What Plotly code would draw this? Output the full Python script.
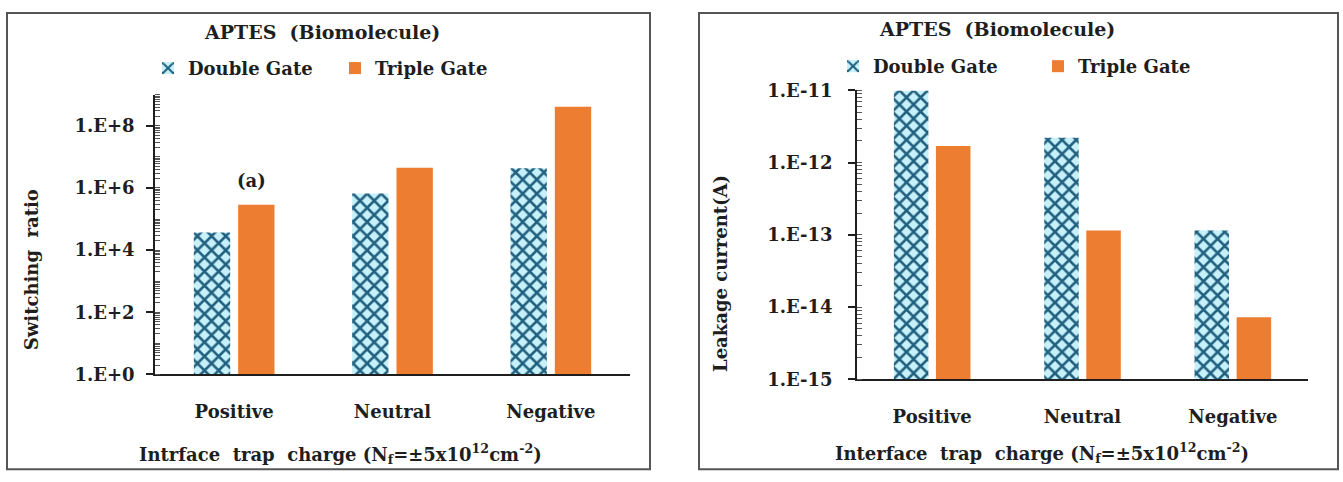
import plotly.graph_objects as go

# Categories and values for the two APTES (biomolecule) panels
charges = ["Positive", "Neutral", "Negative"]

switch_double = [3.7e4, 6.6e5, 4.3e6]
switch_triple = [2.9e5, 4.5e6, 4.1e8]

leak_double = [1.0e-11, 2.2e-12, 1.15e-13]
leak_triple = [1.7e-12, 1.15e-13, 7.2e-15]

switch_tickvals = [1e0, 1e2, 1e4, 1e6, 1e8]
switch_ticktext = ["1.E+0", "1.E+2", "1.E+4", "1.E+6", "1.E+8"]
leak_tickvals = [1e-15, 1e-14, 1e-13, 1e-12, 1e-11]
leak_ticktext = ["1.E-15", "1.E-14", "1.E-13", "1.E-12", "1.E-11"]

W, H = 1343, 482
FONT = "DejaVu Serif"
INK = "#1e1e1e"
ORANGE = "#ED7D31"
CHECK_DARK = "#22607f"
CHECK_LIGHT = "#c6f1fa"


def px(x):
    return x / W


def py(y):
    return 1 - y / H


checker = dict(shape="x", fgcolor=CHECK_DARK, bgcolor=CHECK_LIGHT,
               size=10, solidity=0.45, fillmode="replace")

fig = go.Figure()

fig.add_trace(go.Bar(x=charges, y=switch_double, name="Double Gate",
                     marker=dict(color=CHECK_LIGHT, pattern=checker, line_width=0),
                     xaxis="x", yaxis="y", legend="legend"))
fig.add_trace(go.Bar(x=charges, y=switch_triple, name="Triple Gate",
                     marker=dict(color=ORANGE, line_width=0),
                     xaxis="x", yaxis="y", legend="legend"))
fig.add_trace(go.Bar(x=charges, y=leak_double, name="Double Gate",
                     marker=dict(color=CHECK_LIGHT, pattern=checker, line_width=0),
                     xaxis="x2", yaxis="y2", legend="legend2"))
fig.add_trace(go.Bar(x=charges, y=leak_triple, name="Triple Gate",
                     marker=dict(color=ORANGE, line_width=0),
                     xaxis="x2", yaxis="y2", legend="legend2"))

tickfont = dict(family=FONT, size=18, color=INK, weight="bold")

xaxis_common = dict(type="category", showline=True, linecolor=INK, linewidth=1.5,
                    ticks="", showgrid=False, zeroline=False, tickfont=tickfont,
                    ticklabelstandoff=20, fixedrange=True)

yaxis_common = dict(type="log", showline=True, linecolor=INK, linewidth=1.5,
                    ticks="outside", ticklen=7, tickwidth=1.5, tickcolor=INK,
                    showgrid=False, zeroline=False, tickfont=tickfont,
                    tickmode="array",
                    minor=dict(dtick="D1", ticks="inside", ticklen=5,
                               tickwidth=1, tickcolor="#555555", showgrid=False))

fig.update_layout(
    width=W, height=H,
    margin=dict(l=0, r=0, t=0, b=0),
    paper_bgcolor="white", plot_bgcolor="white",
    barmode="group", bargap=0.44, bargroupgap=0.18,
    xaxis=dict(domain=[px(155), px(630)], anchor="y", **xaxis_common),
    yaxis=dict(domain=[py(380), py(87.5)], anchor="x", range=[0, 9],
               tickvals=switch_tickvals, ticktext=switch_ticktext,
               ticklabelstandoff=8, **yaxis_common),
    xaxis2=dict(domain=[px(857), px(1308)], anchor="y2", **xaxis_common),
    yaxis2=dict(domain=[py(385), py(83)], anchor="x2", range=[-15, -11],
                tickvals=leak_tickvals, ticktext=leak_ticktext,
                ticklabelstandoff=12, **yaxis_common),
    legend=dict(orientation="h", x=px(148), y=py(60), xanchor="left", yanchor="middle",
                font=dict(family=FONT, size=18, color=INK, weight="bold"),
                itemwidth=30, entrywidth=142, entrywidthmode="pixels",
                bgcolor="rgba(0,0,0,0)", traceorder="normal"),
    legend2=dict(orientation="h", x=px(833), y=py(58), xanchor="left", yanchor="middle",
                 font=dict(family=FONT, size=18, color=INK, weight="bold"),
                 itemwidth=30, entrywidth=160, entrywidthmode="pixels",
                 bgcolor="rgba(0,0,0,0)", traceorder="normal"),
)

title_font = dict(family=FONT, size=19, color=INK, weight="bold")
label_font = dict(family=FONT, size=18, color=INK, weight="bold")

annotations = [
    dict(text="APTES\u00a0\u00a0(Biomolecule)", x=px(322), y=py(22), font=title_font),
    dict(text="APTES\u00a0\u00a0(Biomolecule)", x=px(997), y=py(19), font=title_font),
    dict(text="(a)", x=px(251), y=py(177), font=label_font),
    dict(text="Switching\u00a0\u00a0ratio", x=px(31), y=py(271), textangle=-90, font=label_font),
    dict(text="Leakage\u00a0current(A)", x=px(720), y=py(275), textangle=-90, font=label_font),
    dict(text="Intrface\u00a0\u00a0trap\u00a0\u00a0charge\u00a0(N<sub>f</sub>=±5x10<sup>12</sup>cm<sup>-2</sup>)",
         x=px(340), y=py(463), font=label_font),
    dict(text="Interface\u00a0\u00a0trap\u00a0\u00a0charge\u00a0(N<sub>f</sub>=±5x10<sup>12</sup>cm<sup>-2</sup>)",
         x=px(1042), y=py(462), font=label_font),
]
for a in annotations:
    a.update(xref="paper", yref="paper", showarrow=False, xanchor="center", yanchor="middle")
fig.update_layout(annotations=annotations)

# Frames around each panel
for x0, x1 in [(7, 650), (699, 1338)]:
    fig.add_shape(type="rect", xref="paper", yref="paper",
                  x0=px(x0), x1=px(x1), y0=py(479), y1=py(2),
                  line=dict(color="#555555", width=2), fillcolor="rgba(0,0,0,0)")

fig.write_html("out.html")
